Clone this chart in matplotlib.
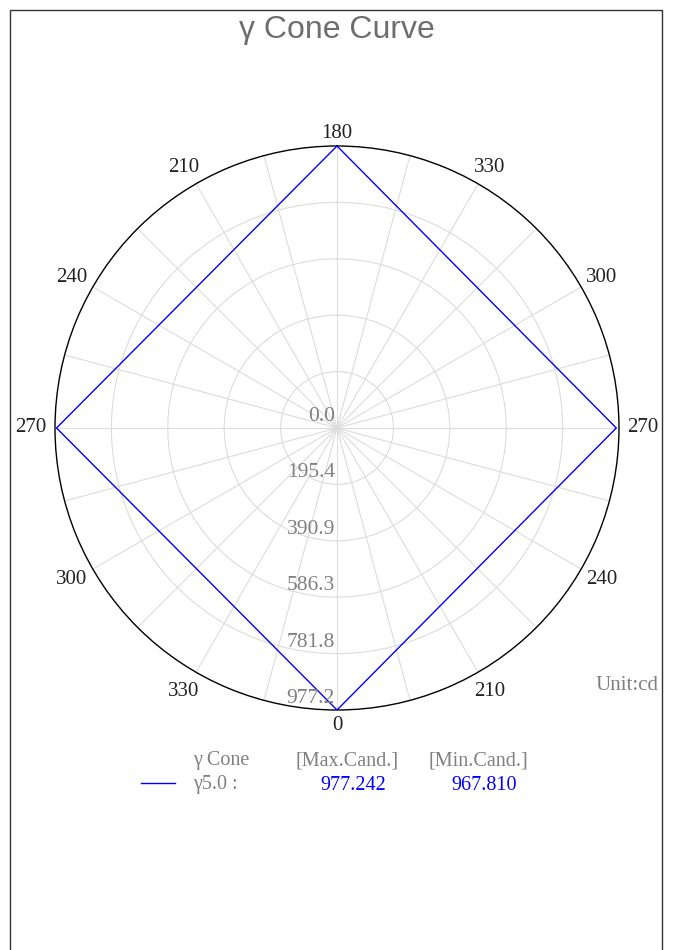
import matplotlib
matplotlib.use("Agg")
import matplotlib.pyplot as plt
import numpy as np
from matplotlib.patches import Rectangle

# ---- data ----
TITLE = "γ Cone Curve"
spoke_deg = list(range(0, 360, 15))                     # spokes every 15 deg
angle_label_deg = [0, 30, 60, 90, 120, 150, 180, 210, 240, 270, 300, 330]
angle_labels = ["180", "330", "300", "270", "240", "210",
                "0", "330", "300", "270", "240", "210"]
ring_values = [0.0, 195.4, 390.9, 586.3, 781.8, 977.2]
r_max = 977.242

# cone curve: angle (clockwise from top, deg) and candela
curve_deg = [0, 90, 180, 270, 360]
curve_cd = [977.242, 967.810, 977.242, 972.0, 977.242]

legend_name = "γ5.0 :"
max_cand = "977.242"
min_cand = "967.810"

C_GRID = "#dcdcdc"
C_TEXT = "#808080"
C_BLUE = "#0000ff"
SERIF = "Liberation Serif"

W, H, DPI = 674, 950, 100
fig = plt.figure(figsize=(W / DPI, H / DPI), dpi=DPI, facecolor="white")

# outer frame (bottom edge runs off the image)
fig.patches.append(Rectangle((10 / W, -0.05), 652 / W, 1.05 - 10 / H,
                             transform=fig.transFigure, fill=False,
                             edgecolor="#333333", lw=1.0))

fig.text(337 / W, 1 - 30 / H, TITLE, ha="center", va="center",
         fontsize=23, color="#6e6e6e", family="Liberation Sans")

# polar axes: centre (337, 428), radius 282 px
R = 282
ax = fig.add_axes([(337 - R) / W, 1 - (428 + R) / H, 2 * R / W, 2 * R / H],
                  projection="polar")
ax.set_theta_zero_location("N")
ax.set_theta_direction(-1)
ax.set_rlim(0, r_max)

ax.set_thetagrids(spoke_deg, [""] * len(spoke_deg))
ax.set_rgrids(ring_values[1:-1], labels=[""] * (len(ring_values) - 2))
ax.grid(True, color=C_GRID, lw=0.8)
ax.spines["polar"].set_color("black")
ax.spines["polar"].set_linewidth(1.0)

# angle labels just outside the rim
for d, lab in zip(angle_label_deg, angle_labels):
    t = np.deg2rad(d)
    dx = 24 * np.sin(t)
    base = 12 if np.cos(t) > 0 else 15
    dy = np.cos(t) * (base + 8 * abs(np.sin(2 * t)))
    ax.annotate(lab, xy=(t, r_max), xytext=(dx, dy), textcoords="offset pixels",
                ha="center", va="center", fontsize=15, family=SERIF,
                color="#222222", annotation_clip=False)

ax.plot(np.deg2rad(curve_deg), curve_cd, color=C_BLUE, lw=1.0, zorder=5)

for v in ring_values:
    ax.annotate(f"{v:.1f}", xy=(np.pi, v), xytext=(-2, 2),
                textcoords="offset pixels", ha="right", va="bottom",
                fontsize=15.5, family=SERIF, color=C_TEXT, zorder=6)

fig.text(658 / W, 1 - 685 / H, "Unit:cd", ha="right", va="center",
         fontsize=15, family=SERIF, color=C_TEXT)

# legend block
y1 = 1 - 761 / H
y2 = 1 - 785 / H
fs = 14.5
fig.add_artist(plt.Line2D([141 / W, 175 / W], [1 - 783 / H, 1 - 783 / H],
                          color=C_BLUE, lw=1.0, transform=fig.transFigure))
fig.text(193 / W, y1, "γ Cone", ha="left", va="center", fontsize=fs,
         family=SERIF, color=C_TEXT)
fig.text(347 / W, y1, "[Max.Cand.]", ha="center", va="center", fontsize=fs,
         family=SERIF, color=C_TEXT)
fig.text(478 / W, y1, "[Min.Cand.]", ha="center", va="center", fontsize=fs,
         family=SERIF, color=C_TEXT)
fig.text(193 / W, y2, legend_name, ha="left", va="center", fontsize=fs,
         family=SERIF, color=C_TEXT)
fig.text(353 / W, y2, max_cand, ha="center", va="center", fontsize=fs,
         family=SERIF, color=C_BLUE)
fig.text(484 / W, y2, min_cand, ha="center", va="center", fontsize=fs,
         family=SERIF, color=C_BLUE)

fig.savefig("out.png", dpi=DPI, facecolor="white")
